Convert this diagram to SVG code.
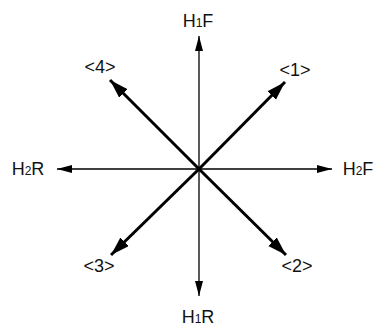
<svg xmlns="http://www.w3.org/2000/svg" width="382" height="329" viewBox="0 0 382 329">
<style>
text{font-family:"Liberation Sans",Arial,sans-serif;font-size:18px;fill:#111}
.s{font-size:12px}
.thin{stroke:#000;stroke-width:1.3;fill:none}
.thick{stroke:#000;stroke-width:3;fill:none}
</style>
<defs>
<marker id="a" markerUnits="userSpaceOnUse" markerWidth="16" markerHeight="10" refX="15" refY="4" orient="auto"><path d="M0,0 L15,4 L0,8 Z" fill="#000"/></marker>
<marker id="b" markerUnits="userSpaceOnUse" markerWidth="20" markerHeight="14" refX="19" refY="6" orient="auto"><path d="M0,0 L19,6 L0,12 Z" fill="#000"/></marker>
</defs>
<g id="connectors">
<line class="thin" x1="199" y1="169" x2="199" y2="36" marker-end="url(#a)"/>
<line class="thin" x1="199" y1="169" x2="199" y2="296" marker-end="url(#a)"/>
<line class="thin" x1="199" y1="169" x2="57" y2="169" marker-end="url(#a)"/>
<line class="thin" x1="199" y1="169" x2="332" y2="169" marker-end="url(#a)"/>
<line class="thick" x1="199" y1="169" x2="285" y2="82" marker-end="url(#b)"/>
<line class="thick" x1="199" y1="169" x2="110" y2="80" marker-end="url(#b)"/>
<line class="thick" x1="199" y1="169" x2="111" y2="255" marker-end="url(#b)"/>
<line class="thick" x1="199" y1="169" x2="286" y2="255" marker-end="url(#b)"/>
</g>
<g id="H1F"><text x="198" y="27" text-anchor="middle">H<tspan class="s">1</tspan>F</text></g>
<g id="H1R"><text x="198" y="323" text-anchor="middle">H<tspan class="s">1</tspan>R</text></g>
<g id="H2R"><text x="28" y="175" text-anchor="middle">H<tspan class="s">2</tspan>R</text></g>
<g id="H2F"><text x="358" y="175" text-anchor="middle">H<tspan class="s">2</tspan>F</text></g>
<g id="n1"><text x="295" y="76" text-anchor="middle">&lt;1&gt;</text></g>
<g id="n2"><text x="297" y="272" text-anchor="middle">&lt;2&gt;</text></g>
<g id="n3"><text x="99" y="272" text-anchor="middle">&lt;3&gt;</text></g>
<g id="n4"><text x="100" y="73" text-anchor="middle">&lt;4&gt;</text></g>
</svg>
